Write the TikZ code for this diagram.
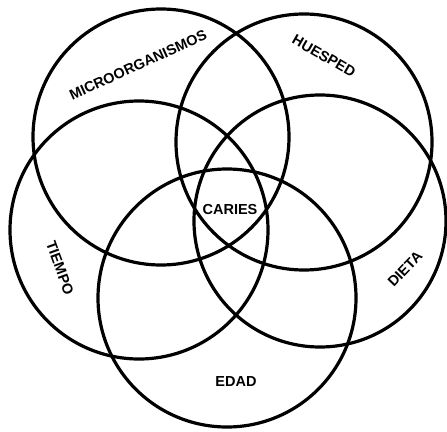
\documentclass[tikz,border=0pt]{standalone}
\usepackage{fontspec}
\setmainfont{Liberation Sans}
\begin{document}
\begin{tikzpicture}[x=1pt,y=-1pt,
  ring/.style={draw=black,line width=3.2pt,circle,inner sep=0pt},
  lbl/.style={font=\fontsize{14.5}{16}\selectfont\bfseries,inner sep=0pt}]
\useasboundingbox (0,0) rectangle (447,431);
\node[ring,minimum size=256pt] (micro) at (161,137) {};
\node[ring,minimum size=256pt] (huesped) at (304,142) {};
\node[ring,minimum size=258pt] (tiempo) at (139,230) {};
\node[ring,minimum size=252pt] (dieta) at (320,221) {};
\node[ring,minimum size=258pt] (edad) at (227,298) {};
\node[lbl,rotate=24.5] (tmicro) at (138,65) {MICROORGANISMOS};
\node[lbl,rotate=-30] (thuesped) at (324,56) {HUESPED};
\node[lbl,rotate=46] (tdieta) at (405,269) {DIETA};
\node[lbl,rotate=-70] (ttiempo) at (60,268) {TIEMPO};
\node[lbl] (tedad) at (236,382) {EDAD};
\node[lbl] (caries) at (230,210) {CARIES};
\end{tikzpicture}
\end{document}
